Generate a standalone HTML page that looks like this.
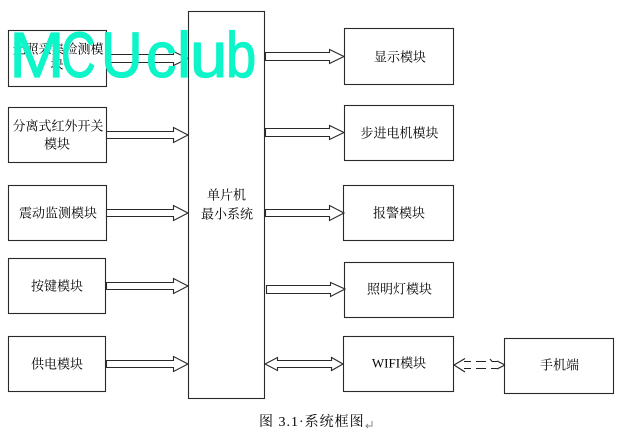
<!DOCTYPE html>
<html><head><meta charset="utf-8"><style>
html,body{margin:0;padding:0;background:#fff;width:620px;height:436px;overflow:hidden}
svg{display:block}
.b{fill:#fff;stroke:#2a2a2a;stroke-width:1.1}
.a{fill:#fff;stroke:#2a2a2a;stroke-width:1.1}
text{font-family:"Liberation Serif","Noto Serif CJK SC",serif;font-size:13px;fill:#000;text-anchor:middle;dominant-baseline:central}
text.w{text-anchor:start;font-family:"Liberation Sans",sans-serif;font-size:64px;fill:#0df5c8;stroke:#0df5c8;stroke-width:1.2px;stroke-linejoin:round;stroke-linecap:round;dominant-baseline:alphabetic}
</style></head><body>
<svg width="620" height="436" viewBox="0 0 620 436" xmlns="http://www.w3.org/2000/svg">
<rect class="b" x="8.5" y="30.5" width="98" height="56"/>
<rect class="b" x="8.5" y="107.5" width="98" height="55"/>
<rect class="b" x="8.5" y="185.5" width="98" height="55"/>
<rect class="b" x="8.5" y="258.5" width="97" height="55"/>
<rect class="b" x="8.5" y="336.5" width="97" height="55"/>
<rect class="b" x="188.5" y="11.5" width="76" height="387"/>
<rect class="b" x="344.5" y="28.5" width="109" height="56"/>
<rect class="b" x="344.5" y="105.5" width="109" height="55"/>
<rect class="b" x="343.5" y="185.5" width="110" height="55"/>
<rect class="b" x="344.5" y="262.5" width="109" height="55"/>
<rect class="b" x="343.5" y="336.5" width="110" height="55"/>
<rect class="b" x="504.5" y="338.5" width="109" height="55"/>

<path class="a" d="M106.5 54.5H173.5V51.5L188 58.5L173.5 65.5V62.5H106.5Z"/>
<path class="a" d="M106.5 131.5H173.5V127.5L188 135L173.5 142.5V138.5H106.5Z"/>
<path class="a" d="M106.5 209.5H173.5V205.5L188 213L173.5 220.5V216.5H106.5Z"/>
<path class="a" d="M106.5 282.5H173.5V278.5L188 286L173.5 293.5V289.5H106.5Z"/>
<path class="a" d="M106.5 360.5H173.5V356.5L188 364L173.5 371.5V367.5H106.5Z"/>
<path class="a" d="M265.5 52.5H329.5V49.5L344 56.5L329.5 63.5V60.5H265.5Z"/>
<path class="a" d="M265.5 128.5H329.5V125.5L344 132.5L329.5 139.5V136.5H265.5Z"/>
<path class="a" d="M265.5 209.5H329.5V205.5L344 213L329.5 220.5V216.5H265.5Z"/>
<path class="a" d="M266.5 285.5H330.5V282.5L345 289L330.5 296.5V293.5H266.5Z"/>
<path class="a" d="M265 364L277.5 357.5V360.5H331.5V357.5L343 364L331.5 370.5V367.5H277.5V370.5Z"/>
<path fill="none" stroke="#222" stroke-width="1.1" d="M465 358.5L454 365L465 372M505 365L497 361M497 369L505 365M464 361.5H471M476 361.5H486M490 359L492 361.5H497M464 368.5H471M476 368.5H486M491 368.5H497"/>

<text x="58" y="49">光照采集检测模</text>
<text x="57" y="64">块</text>
<text x="58" y="126">分离式红外开关</text>
<text x="57" y="144">模块</text>
<text x="58" y="213">震动监测模块</text>
<text x="57" y="286">按键模块</text>
<text x="57" y="364">供电模块</text>
<text x="226.5" y="195">单片机</text>
<text x="227" y="214">最小系统</text>
<text x="400" y="57">显示模块</text>
<text x="399.5" y="133">步进电机模块</text>
<text x="399" y="213">报警模块</text>
<text x="399.5" y="289">照明灯模块</text>
<text x="399" y="363">WIFI模块</text>
<text x="559.5" y="365">手机端</text>
<text x="259" y="422.5" style="text-anchor:start;font-size:14px;letter-spacing:1px">图 3.1·系统框图</text>
<path fill="none" stroke="#888" d="M372 421V426H366M368 424L366 426L368 428"/>

<text class="w" transform="translate(9.5,77) scale(1.03,1)">M</text>
<text class="w" transform="translate(61,77) scale(.75,1)">C</text>
<text class="w" transform="translate(101,77) scale(.9,1)">U</text>
<text class="w" transform="translate(146,77) scale(.95,1)">c</text>
<text class="w" transform="translate(177,77)">l</text>
<text class="w" transform="translate(190,77) scale(1.05,1)">u</text>
<text class="w" transform="translate(226,77) scale(.85,1)">b</text>
</svg>
</body></html>
